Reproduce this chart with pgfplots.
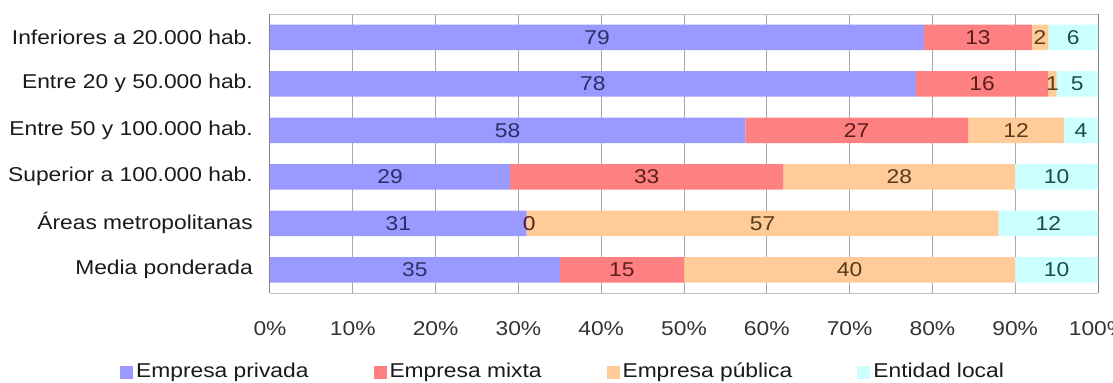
\documentclass[border=0pt]{standalone}
\usepackage{fontspec}
\setmainfont{Liberation Sans}[FakeStretch=1.14]
\usepackage{pgfplots}
\pgfplotsset{compat=1.18}
\definecolor{cpriv}{HTML}{9999FF}
\definecolor{cmix}{HTML}{FF8080}
\definecolor{cpub}{HTML}{FFCC99}
\definecolor{cloc}{HTML}{CCFFFF}
\definecolor{tpriv}{HTML}{2E2E66}
\definecolor{tmix}{HTML}{5A1E1E}
\definecolor{tpub}{HTML}{5A3A1A}
\definecolor{tloc}{HTML}{1E4A4A}
\definecolor{gridc}{HTML}{A8A8A8}
\definecolor{txt}{HTML}{1A1A1A}
\begin{document}
\fontsize{20bp}{24bp}\selectfont
\begin{tikzpicture}
\begin{axis}[
  at={(0,0)}, anchor=south west,
  width=828bp, height=279bp, scale only axis,
  xbar stacked, bar width=25.5bp,
  xmin=0, xmax=100, ymin=-0.5, ymax=5.5, y dir=reverse,
  ytick={0,1,2,3,4,5},
  yticklabels={Inferiores a 20.000 hab., Entre 20 y 50.000 hab., Entre 50 y 100.000 hab., Superior a 100.000 hab., Áreas metropolitanas, Media ponderada},
  xtick={0,10,20,30,40,50,60,70,80,90,100},
  xticklabels={0\%,10\%,20\%,30\%,40\%,50\%,60\%,70\%,80\%,90\%,100\%},
  tick style={draw=none},
  xmajorgrids, grid style={draw=gridc, line width=1bp},
  separate axis lines,
  x axis line style={draw=gridc!70, line width=1bp},
  y axis line style={draw=gray, line width=1bp},
  yticklabel style={anchor=east, inner sep=0pt, xshift=-17bp, text=txt},
  xticklabel style={anchor=north, inner sep=0pt, yshift=-28bp, text=black!80},
  legend style={at={(-0.1812,-0.2832)}, anchor=west, draw=none, inner sep=0pt,
    legend columns=4, text=txt,
    /tikz/every even column/.append style={column sep=62bp},
    nodes={inner sep=3bp}},
  legend image code/.code={\fill[#1,draw=none] (0bp,-6.5bp) rectangle (13bp,6.5bp);},
]
\addplot[fill=cpriv, draw=none] coordinates {(79,0) (78,1) (57.4,2) (29,3) (31,4) (35,5)};
\addplot[fill=cmix, draw=none] coordinates {(13,0) (16,1) (26.9,2) (33,3) (0,4) (15,5)};
\addplot[fill=cpub, draw=none] coordinates {(2,0) (1,1) (11.6,2) (28,3) (57,4) (40,5)};
\addplot[fill=cloc, draw=none] coordinates {(6,0) (5,1) (4.1,2) (10,3) (12,4) (10,5)};
\legend{Empresa privada, Empresa mixta, Empresa pública, Entidad local}
\end{axis}
\begin{axis}[
  at={(0,0)}, anchor=south west,
  width=828bp, height=279bp, scale only axis,
  xmin=0, xmax=100, ymin=-0.5, ymax=5.5, y dir=reverse,
  hide axis, clip=false,
  point meta=explicit symbolic,
  nodes near coords,
  every node near coord/.style={anchor=center, inner sep=0pt},
]
\addplot[only marks, mark=none, nodes near coords style={text=tpriv}] coordinates {(39.5,0)[79] (39,1)[78] (28.7,2)[58] (14.5,3)[29] (15.5,4)[31] (17.5,5)[35]};
\addplot[only marks, mark=none, nodes near coords style={text=tmix}] coordinates {(85.5,0)[13] (86,1)[16] (70.85,2)[27] (45.5,3)[33] (31.3,4)[0] (42.5,5)[15]};
\addplot[only marks, mark=none, nodes near coords style={text=tpub}] coordinates {(93,0)[2] (94.5,1)[1] (90.1,2)[12] (76,3)[28] (59.5,4)[57] (70,5)[40]};
\addplot[only marks, mark=none, nodes near coords style={text=tloc}] coordinates {(97,0)[6] (97.5,1)[5] (97.95,2)[4] (95,3)[10] (94,4)[12] (95,5)[10]};
\end{axis}
\pgfresetboundingbox
\useasboundingbox (-270bp,-90bp) rectangle (843bp,293bp);
\end{tikzpicture}
\end{document}
